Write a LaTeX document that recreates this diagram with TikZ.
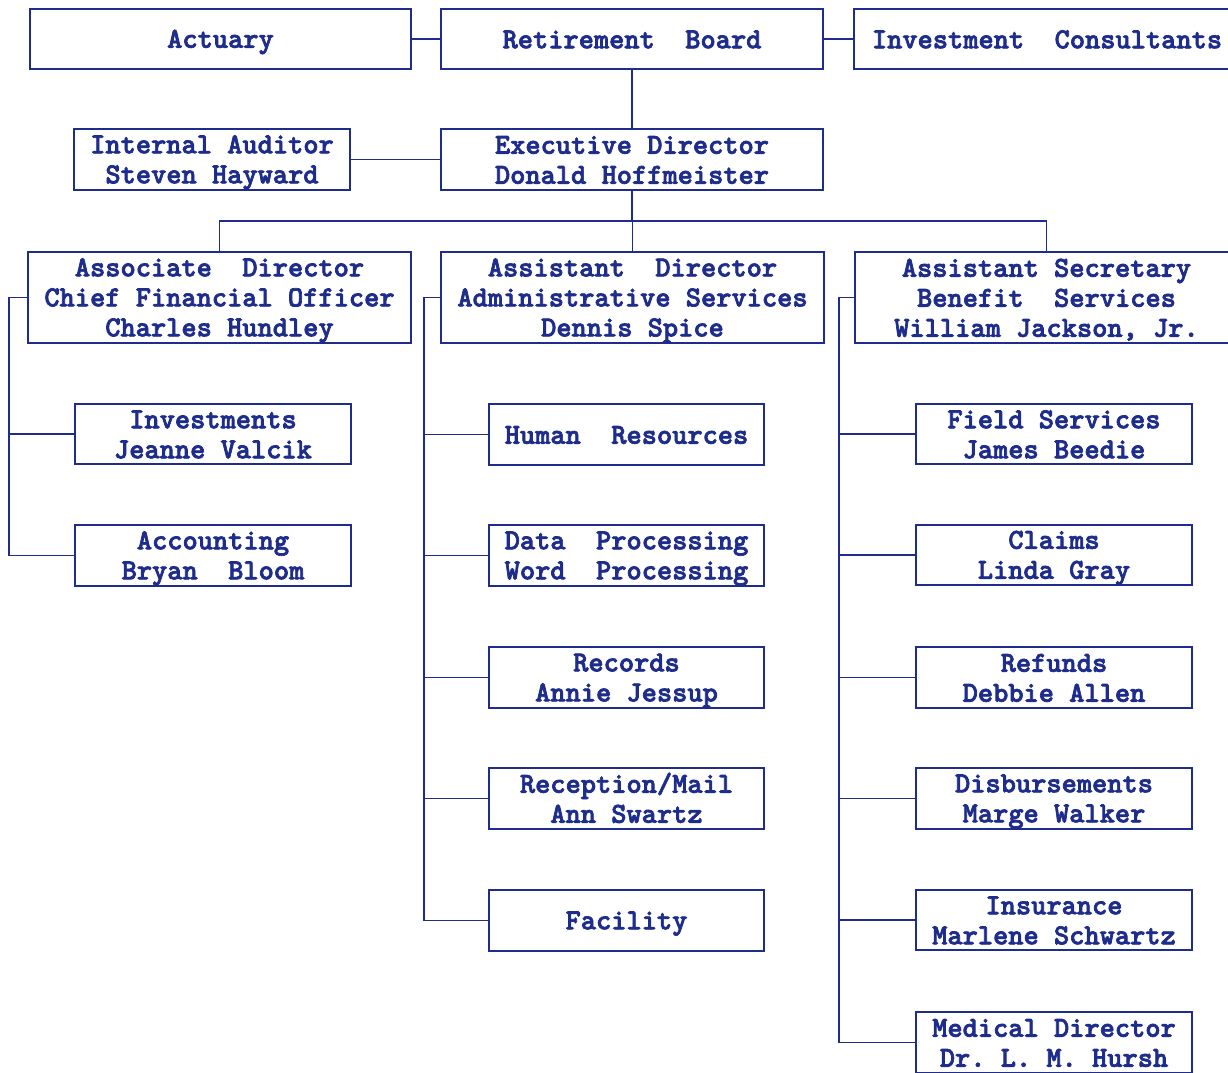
\documentclass[tikz,border=0pt]{standalone}
\usepackage{fontspec}
\newfontfamily\tw{lmmonolt10-bold}[Extension=.otf]
\definecolor{ink}{RGB}{30,45,140}
\newcommand\topst{\rule{0pt}{24pt}}
\newcommand\botst{\rule[-5.5pt]{0pt}{0pt}}
\begin{document}
\begin{tikzpicture}[x=1pt,y=-1pt,
  box/.style={draw=ink,line width=1.7pt,inner sep=0pt,align=center,
    text=ink,font=\tw\fontsize{29}{30}\selectfont\frenchspacing,
    execute at begin node={\special{pdf:literal direct 2 Tr 0.7 w}},
    execute at end node={\special{pdf:literal direct 0 Tr}}},
  conn/.style={draw=ink,line width=1.7pt}]
\useasboundingbox (0,0) rectangle (1228,1072);
\fill[white] (0,0) rectangle (1228,1072);
\clip (0,0) rectangle (1228,1072);
% top row
\node[box,minimum width=381pt,minimum height=60pt] (act) at (220.5,39) {\topst Actuary\botst};
\node[box,minimum width=382pt,minimum height=60pt] (rb) at (632,39) {\topst Retirement~ Board\botst};
\node[box,minimum width=386pt,minimum height=60pt] (ic) at (1047,39) {\topst Investment~ Consultants\botst};
\node[box,minimum width=276pt,minimum height=61pt] (ia) at (212,159.5) {\topst Internal Auditor\\Steven Hayward\botst};
\node[box,minimum width=382pt,minimum height=61pt] (ed) at (632,159.5) {\topst Executive Director\\Donald Hoffmeister\botst};
% directors
\node[box,minimum width=383pt,minimum height=91pt] (ad1) at (219.5,297.5) {\topst Associate~ Director\\Chief Financial Officer\\Charles Hundley\botst};
\node[box,minimum width=383pt,minimum height=91pt] (ad2) at (632.5,297.5) {\topst Assistant~ Director\\Administrative Services\\Dennis Spice\botst};
\node[box,minimum width=383pt,minimum height=91pt] (as) at (1046.5,297.5) {\topst Assistant Secretary\\Benefit~ Services\\William Jackson, Jr.\botst};
% left column
\node[box,minimum width=276pt,minimum height=60pt] (inv) at (213,434) {\topst Investments\\Jeanne Valcik\botst};
\node[box,minimum width=276pt,minimum height=61pt] (acc) at (213,555.5) {\topst Accounting\\Bryan~ Bloom\botst};
% middle column
\node[box,minimum width=275pt,minimum height=61pt] (hr) at (626.5,434.5) {\topst Human~ Resources\botst};
\node[box,minimum width=275pt,minimum height=61pt] (dp) at (626.5,555.5) {\topst Data~ Processing\\Word~ Processing\botst};
\node[box,minimum width=275pt,minimum height=61pt] (rec) at (626.5,677.5) {\topst Records\\Annie Jessup\botst};
\node[box,minimum width=275pt,minimum height=61pt] (rm) at (626.5,798.5) {\topst Reception/Mail\\Ann Swartz\botst};
\node[box,minimum width=275pt,minimum height=61pt] (fac) at (626.5,920.5) {\topst Facility\botst};
% right column
\node[box,minimum width=276pt,minimum height=60pt] (fs) at (1054,434) {\topst Field Services\\James Beedie\botst};
\node[box,minimum width=276pt,minimum height=60pt] (cl) at (1054,555) {\topst Claims\\Linda Gray\botst};
\node[box,minimum width=276pt,minimum height=61pt] (rf) at (1054,677.5) {\topst Refunds\\Debbie Allen\botst};
\node[box,minimum width=276pt,minimum height=61pt] (db) at (1054,798.5) {\topst Disbursements\\Marge Walker\botst};
\node[box,minimum width=276pt,minimum height=60pt] (ins) at (1054,920) {\topst Insurance\\Marlene Schwartz\botst};
\node[box,minimum width=276pt,minimum height=61pt] (md) at (1054,1042.5) {\topst Medical Director\\Dr. L. M. Hursh\botst};
% connectors top
\draw[conn] (act.east) -- (rb.west);
\draw[conn] (rb.east) -- (ic.west);
\draw[conn] (rb.south) -- (ed.north);
\draw[conn] (ia.east) -- (ed.west);
\coordinate (bus) at (631,221);
\draw[conn] (ed.south) -- (ed.south |- bus);
\draw[conn] (ad1.north) -- (ad1.north |- bus) -- (as.north |- bus) -- (as.north);
\draw[conn] (ad2.north |- bus) -- (ad2.north);
% left branch
\draw[conn] (ad1.west) -- ++(-18,0) coordinate (b1) -- (b1 |- acc.west) -- (acc.west);
\draw[conn] (b1 |- inv.west) -- (inv.west);
% middle branch
\draw[conn] (ad2.west) -- ++(-16,0) coordinate (b2) -- (b2 |- fac.west) -- (fac.west);
\foreach \n in {hr,dp,rec,rm} \draw[conn] (b2 |- \n.west) -- (\n.west);
% right branch
\draw[conn] (as.west) -- ++(-15,0) coordinate (b3) -- (b3 |- md.west) -- (md.west);
\foreach \n in {fs,cl,rf,db,ins} \draw[conn] (b3 |- \n.west) -- (\n.west);
\end{tikzpicture}
\end{document}
